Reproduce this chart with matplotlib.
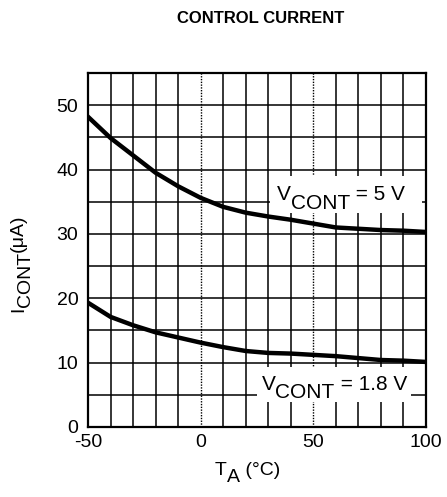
import numpy as np
import matplotlib
matplotlib.use("Agg")
import matplotlib.pyplot as plt
from matplotlib.patches import Rectangle
from matplotlib.transforms import Bbox

plt.rcParams['font.family'] = ['Liberation Sans', 'DejaVu Sans']
plt.rcParams['axes.unicode_minus'] = False

# temperature points (deg C)
temp = [-50, -40, -30, -20, -10, 0, 10, 20, 30, 40, 50, 60, 70, 80, 90, 100]

# control current (uA)
i_5v = [48.2, 44.9, 42.2, 39.5, 37.4, 35.6, 34.2, 33.3, 32.7, 32.2, 31.6, 31.0, 30.8, 30.6, 30.5, 30.3]
i_18v = [19.3, 17.1, 15.8, 14.7, 13.9, 13.1, 12.4, 11.8, 11.5, 11.4, 11.2, 11.0, 10.7, 10.4, 10.3, 10.1]

x_ticks = [-50, 0, 50, 100]
y_ticks = [0, 10, 20, 30, 40, 50]

fig = plt.figure(figsize=(4.47, 4.97), dpi=100)
ax = fig.add_axes([0.197, 0.141, 0.756, 0.712])

ax.set_xlim(-50, 100)
ax.set_ylim(0, 55)


def chain(first, pieces, size, rot=0):
    # put text pieces one after another, each with its own baseline shift (points)
    prev = first
    out = [first]
    for txt, shift in pieces:
        if rot == 0:
            prev = ax.annotate(txt, xy=(1, 0), xycoords=prev, xytext=(0, shift),
                               textcoords='offset points', ha='left', va='bottom',
                               fontsize=size, zorder=5, annotation_clip=False)
        else:
            prev = ax.annotate(txt, xy=(0, 1), xycoords=prev, xytext=(-shift, 0),
                               textcoords='offset points', ha='left', va='bottom',
                               rotation=90, fontsize=size, zorder=5,
                               annotation_clip=False)
        out.append(prev)
    return out


# grid
for xv in np.arange(-40, 100, 10):
    if xv in (0, 50):
        ax.axvline(xv, color='black', lw=1.0, ls=(0, (1, 1)), zorder=1)
    else:
        ax.axvline(xv, color='black', lw=1.1, zorder=1)
for yv in np.arange(5, 55, 5):
    ax.axhline(yv, color='black', lw=1.1, zorder=1)

ax.plot(temp, i_5v, color='black', lw=3.2, zorder=4.5)
ax.plot(temp, i_18v, color='black', lw=3.2, zorder=4.5)

# curve labels
t = ax.text(33.9, 34.6, 'V', fontsize=15, ha='left', va='bottom', zorder=5)
lab5 = chain(t, [('CONT', -6), (' = 5 V', 6)], 15)
t = ax.text(27.0, 5.1, 'V', fontsize=15, ha='left', va='bottom', zorder=5)
lab18 = chain(t, [('CONT', -6), (' = 1.8 V', 6)], 15)

ax.set_xticks(x_ticks)
ax.set_yticks(y_ticks)
ax.tick_params(axis='x', length=0, labelsize=14, pad=5)
ax.tick_params(axis='y', length=0, labelsize=14, pad=7)
for s in ax.spines.values():
    s.set_linewidth(1.6)
    s.set_zorder(6)

# axis labels
t = ax.text(215 / 447, 0.036, 'T', fontsize=14, ha='left', va='bottom', transform=fig.transFigure)
chain(t, [('A', -5), (' (\u00b0C)', 5)], 14)
t = ax.text(10 / 447, 1 - 312 / 497, 'I', fontsize=14, ha='left', va='bottom', rotation=90,
            transform=fig.transFigure)
chain(t, [('CONT', -5), ('(\u03bcA)', 5)], 14, rot=90)

fig.text(0.582, 0.962, 'CONTROL CURRENT', fontsize=12, fontweight='bold', ha='center', va='center')

# white patch behind each curve label (pads in pixels: left, right, top, bottom)
fig.canvas.draw()
for grp, pads in [(lab5, (7, 17, 9, 0)), (lab18, (5, 4, 8, 0))]:
    bb = Bbox.union([a.get_window_extent() for a in grp])
    lo = ax.transData.inverted().transform((bb.x0 - pads[0], bb.y0 - pads[3]))
    hi = ax.transData.inverted().transform((bb.x1 + pads[1], bb.y1 + pads[2]))
    ax.add_patch(Rectangle(lo, hi[0] - lo[0], hi[1] - lo[1], facecolor='white',
                           edgecolor='none', zorder=4))

fig.savefig('out.png', dpi=100)
